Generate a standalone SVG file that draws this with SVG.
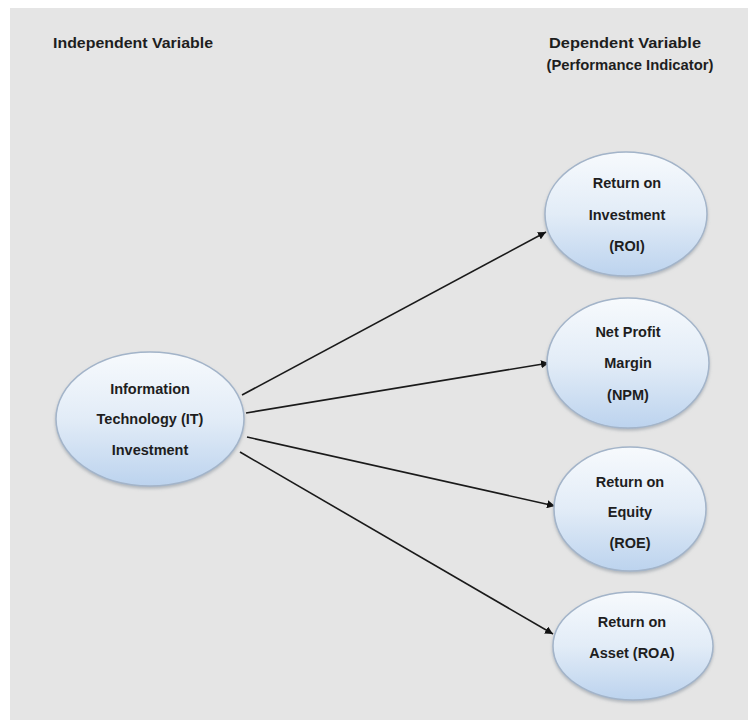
<svg xmlns="http://www.w3.org/2000/svg" width="748" height="720" viewBox="0 0 748 720">
  <defs>
    <linearGradient id="fillGrad" x1="0" y1="0" x2="0" y2="1">
      <stop offset="0" stop-color="#f7fafd"/>
      <stop offset="0.5" stop-color="#e2ecf7"/>
      <stop offset="1" stop-color="#bcd3ee"/>
    </linearGradient>
    <filter id="shadow" x="-20%" y="-20%" width="140%" height="150%">
      <feDropShadow dx="0" dy="2" stdDeviation="1.5" flood-color="#7f8894" flood-opacity="0.5"/>
    </filter>
    <marker id="arrow" viewBox="0 0 10 10" refX="10" refY="5" markerWidth="8" markerHeight="8" markerUnits="userSpaceOnUse" orient="auto">
      <path d="M0,0 L10,5 L0,10 z" fill="#111"/>
    </marker>
    <style>
      .node ellipse { fill: url(#fillGrad); stroke: #a3b4c9; stroke-width: 1.5; filter: url(#shadow); }
      .label { font-family: "Liberation Sans", Arial, sans-serif; font-weight: bold; font-size: 14.5px; fill: #1e1e1e; text-anchor: middle; }
      .header { font-family: "Liberation Sans", Arial, sans-serif; font-weight: bold; font-size: 15px; fill: #1e1e1e; }
      .conn line { stroke: #1a1a1a; stroke-width: 1.6; marker-end: url(#arrow); }
    </style>
  </defs>

  <rect x="0" y="0" width="748" height="720" fill="#ffffff"/>
  <rect x="10" y="8" width="738" height="712" fill="#e5e5e5"/>

  <g id="headers">
    <text class="header" x="53" y="48" textLength="160" lengthAdjust="spacingAndGlyphs">Independent Variable</text>
    <text class="header" x="625" y="48" text-anchor="middle" textLength="152" lengthAdjust="spacingAndGlyphs">Dependent Variable</text>
    <text class="header" x="630" y="70" text-anchor="middle" textLength="167" lengthAdjust="spacingAndGlyphs">(Performance Indicator)</text>
  </g>

  <g id="connectors" class="conn">
    <line x1="242" y1="395" x2="546" y2="232"/>
    <line x1="246" y1="413" x2="549" y2="363"/>
    <line x1="247" y1="437" x2="555" y2="506"/>
    <line x1="240" y1="452" x2="553" y2="634"/>
  </g>

  <g id="node-it" class="node">
    <ellipse cx="150" cy="419" rx="94" ry="67"/>
    <text class="label" x="150" y="394">Information</text>
    <text class="label" x="150" y="424">Technology (IT)</text>
    <text class="label" x="150" y="455">Investment</text>
  </g>

  <g id="node-roi" class="node">
    <ellipse cx="626" cy="214" rx="81" ry="62"/>
    <text class="label" x="627" y="188">Return on</text>
    <text class="label" x="627" y="220">Investment</text>
    <text class="label" x="627" y="251">(ROI)</text>
  </g>

  <g id="node-npm" class="node">
    <ellipse cx="628" cy="363" rx="81" ry="65"/>
    <text class="label" x="628" y="337">Net Profit</text>
    <text class="label" x="628" y="368">Margin</text>
    <text class="label" x="628" y="400">(NPM)</text>
  </g>

  <g id="node-roe" class="node">
    <ellipse cx="630" cy="509" rx="76" ry="62"/>
    <text class="label" x="630" y="487">Return on</text>
    <text class="label" x="630" y="517">Equity</text>
    <text class="label" x="630" y="548">(ROE)</text>
  </g>

  <g id="node-roa" class="node">
    <ellipse cx="633" cy="646" rx="80" ry="54"/>
    <text class="label" x="632" y="627">Return on</text>
    <text class="label" x="632" y="658">Asset (ROA)</text>
  </g>
</svg>
